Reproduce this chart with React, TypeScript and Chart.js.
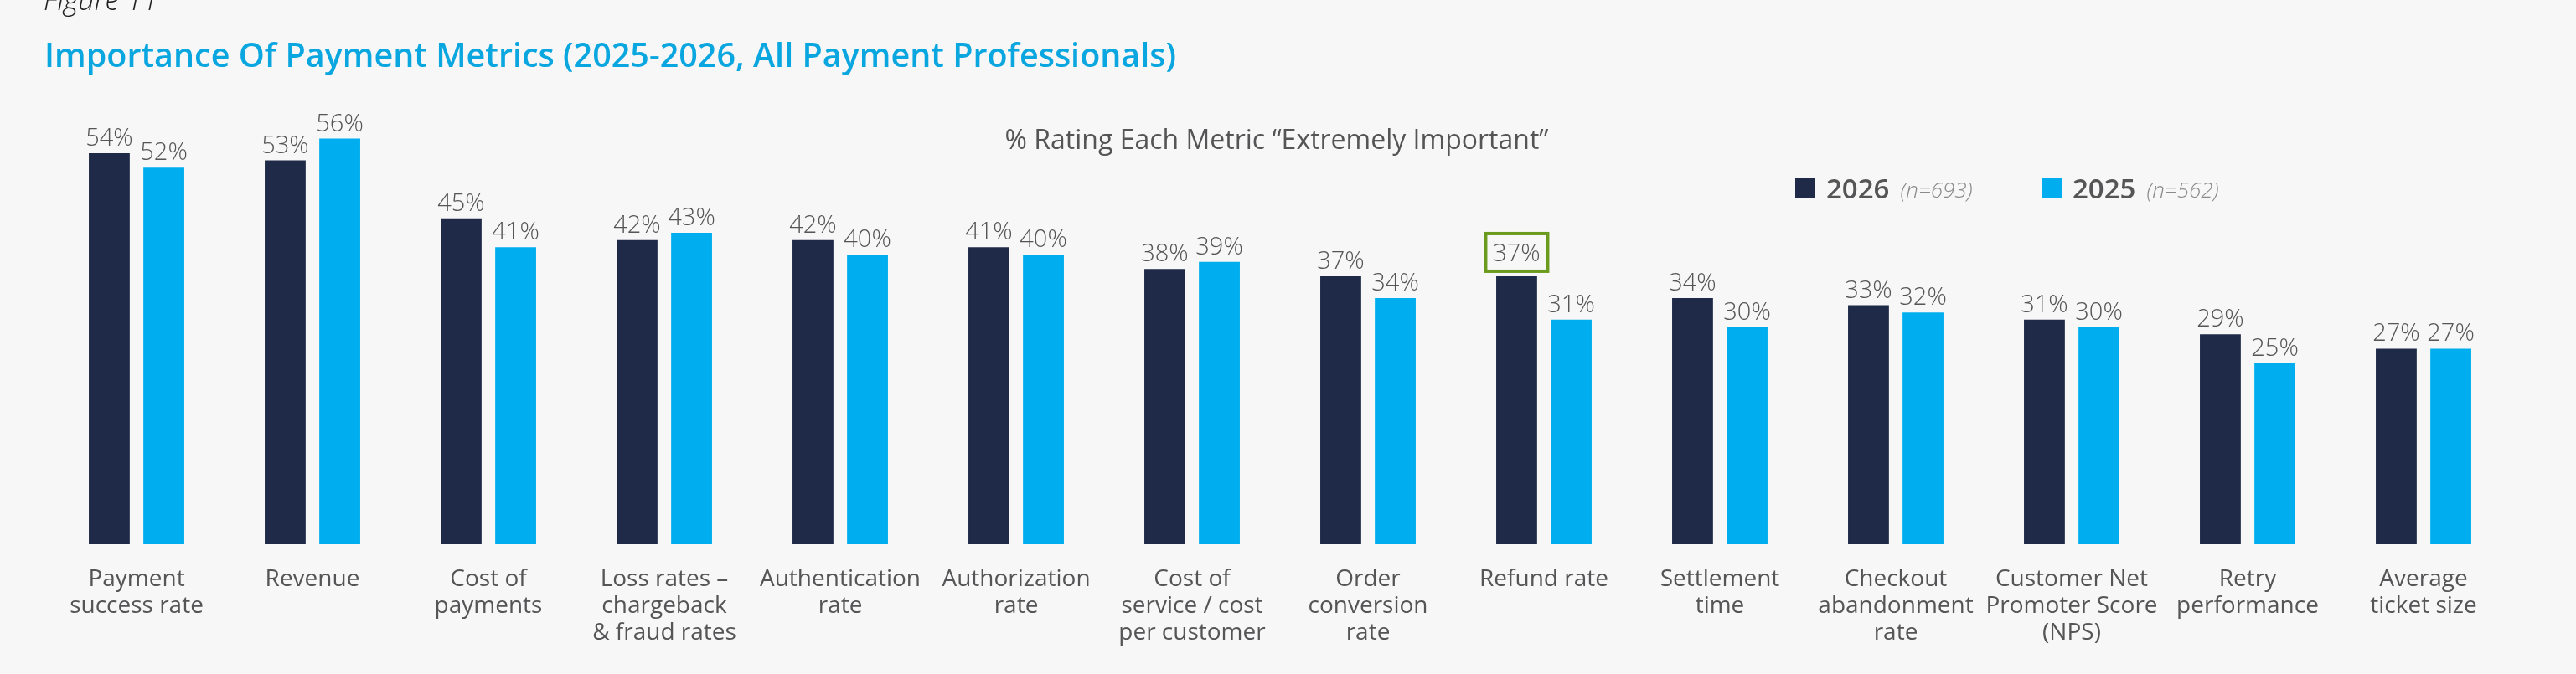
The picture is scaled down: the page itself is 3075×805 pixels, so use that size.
import React, { useEffect, useRef } from "react";
import { Chart, registerables } from "chart.js";

Chart.register(...registerables);

const categories: string[][] = [
  ["Payment", "success rate"],
  ["Revenue"],
  ["Cost of", "payments"],
  ["Loss rates –", "chargeback", "& fraud rates"],
  ["Authentication", "rate"],
  ["Authorization", "rate"],
  ["Cost of", "service / cost", "per customer"],
  ["Order", "conversion", "rate"],
  ["Refund rate"],
  ["Settlement", "time"],
  ["Checkout", "abandonment", "rate"],
  ["Customer Net", "Promoter Score", "(NPS)"],
  ["Retry", "performance"],
  ["Average", "ticket size"],
];

const values2026: number[] = [54, 53, 45, 42, 42, 41, 38, 37, 37, 34, 33, 31, 29, 27];
const values2025: number[] = [52, 56, 41, 43, 40, 40, 39, 34, 31, 30, 32, 30, 25, 27];

const seriesNames = ["2026", "2025"];
const sampleSizes = ["(n=693)", "(n=562)"];
const highlightIndex = 8; // Refund rate, 2026

const figureLabel = "Figure 11";
const titleText = "Importance Of Payment Metrics (2025-2026, All Payment Professionals)";
const subtitleText = "% Rating Each Metric \u201CExtremely Important\u201D";

const DARK = "#1e2a47";
const LIGHT = "#00aeef";
const GREY = "#555557";
const BG = "#f7f7f7";
const FONT = '"Open Sans", "Noto Sans", sans-serif';

const decorPlugin = {
  id: "decor",
  beforeDraw(chart: any) {
    const { ctx, width, height } = chart;
    ctx.save();
    ctx.fillStyle = BG;
    ctx.fillRect(0, 0, width, height);
    ctx.restore();
  },
  afterDraw(chart: any) {
    const { ctx, chartArea } = chart;
    ctx.save();
    // Figure label (cut at top)
    ctx.fillStyle = "#222";
    ctx.font = `italic 300 34px ${FONT}`;
    ctx.textAlign = "left";
    ctx.textBaseline = "alphabetic";
    ctx.fillText(figureLabel, 52, 12);

    // Title
    ctx.fillStyle = "#0aa6e0";
    ctx.font = `600 39.5px ${FONT}`;
    ctx.fillText(titleText, 53, 80);

    // Subtitle
    ctx.fillStyle = GREY;
    ctx.font = `500 32px ${FONT}`;
    ctx.textAlign = "center";
    ctx.fillText(subtitleText, 1524, 178);

    // Legend
    const legendX = [2143, 2437];
    const colors = [DARK, LIGHT];
    for (let i = 0; i < 2; i++) {
      const x = legendX[i];
      ctx.fillStyle = colors[i];
      ctx.fillRect(x, 213, 24, 24);
      ctx.fillStyle = GREY;
      ctx.font = `600 33px ${FONT}`;
      ctx.textAlign = "left";
      ctx.fillText(seriesNames[i], x + 37, 237);
      const w = ctx.measureText(seriesNames[i]).width;
      ctx.fillStyle = "#8a8a8a";
      ctx.font = `italic 300 26px ${FONT}`;
      ctx.fillText(sampleSizes[i], x + 37 + w + 13, 236);
    }

    // Value labels
    ctx.font = `300 29px ${FONT}`;
    ctx.textAlign = "center";
    ctx.textBaseline = "alphabetic";
    chart.data.datasets.forEach((ds: any, di: number) => {
      const meta = chart.getDatasetMeta(di);
      meta.data.forEach((bar: any, i: number) => {
        const txt = `${ds.data[i]}%`;
        const highlighted = di === 0 && i === highlightIndex;
        const baseY = bar.y - (highlighted ? 18 : 9);
        ctx.fillStyle = "#555";
        ctx.fillText(txt, bar.x, baseY);
        if (highlighted) {
          ctx.strokeStyle = "#6b9b1e";
          ctx.lineWidth = 4;
          ctx.strokeRect(bar.x - 37, baseY - 33, 74, 45);
        }
      });
    });
    ctx.restore();
  },
};

export default function App() {
  const ref = useRef<HTMLCanvasElement | null>(null);
  useEffect(() => {
    document.body.style.margin = "0";
    document.body.style.background = BG;
    const canvas = ref.current!;
    const chart = new Chart(canvas, {
      type: "bar",
      data: {
        labels: categories as any,
        datasets: [
          {
            label: seriesNames[0],
            data: values2026,
            backgroundColor: DARK,
            barPercentage: 0.75,
            categoryPercentage: 0.62,
          },
          {
            label: seriesNames[1],
            data: values2025,
            backgroundColor: LIGHT,
            barPercentage: 0.75,
            categoryPercentage: 0.62,
          },
        ],
      },
      options: {
        responsive: false,
        animation: false,
        devicePixelRatio: 1,
        layout: { padding: { left: 58, right: 77, top: 131, bottom: 0 } },
        plugins: {
          legend: { display: false },
          tooltip: { enabled: false },
          title: { display: false },
        },
        scales: {
          x: {
            grid: { display: false, drawTicks: false },
            border: { display: false },
            ticks: {
              autoSkip: false,
              maxRotation: 0,
              minRotation: 0,
              color: GREY,
              padding: 26,
              font: { family: FONT, size: 28, weight: 500 as any, lineHeight: "32px" as any },
            },
            afterFit: (scale: any) => {
              scale.height = 155;
            },
          } as any,
          y: { display: false, min: 0, max: 60 },
        },
      },
      plugins: [decorPlugin],
    });
    return () => chart.destroy();
  }, []);
  return <canvas ref={ref} width={3075} height={805} style={{ display: "block" }} />;
}
